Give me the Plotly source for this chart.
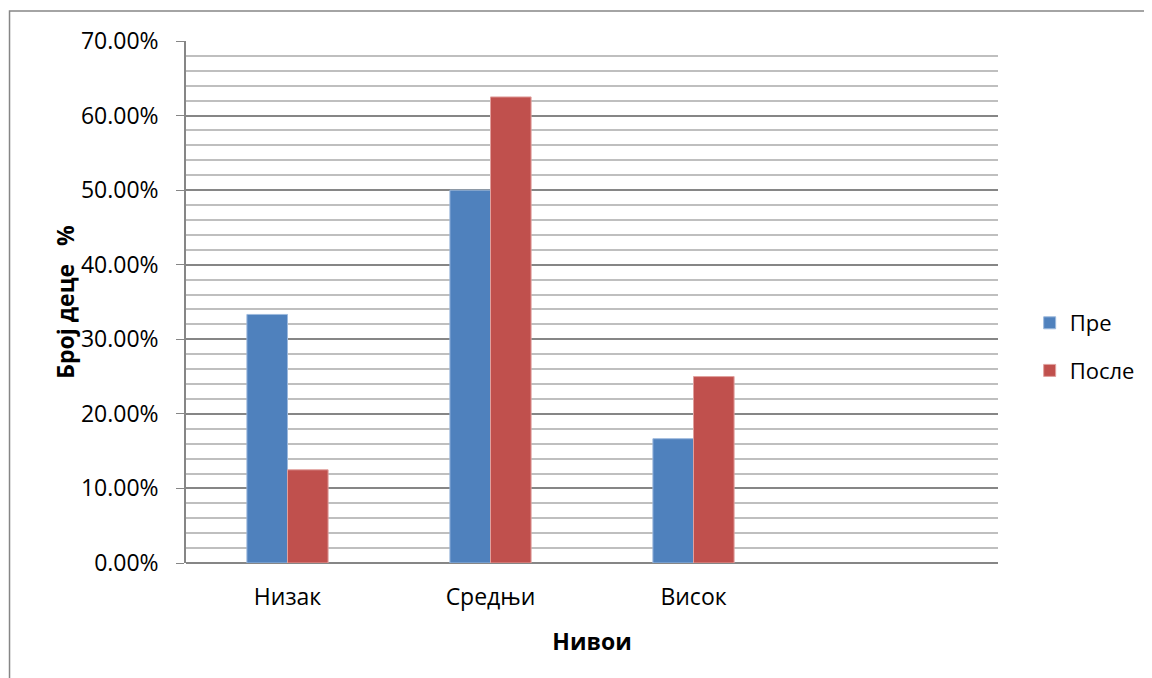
import plotly.graph_objects as go

categories = ["Низак", "Средњи", "Висок"]
pre = [0.3333, 0.50, 0.1667]
posle = [0.125, 0.625, 0.25]
series_names = ["Пре", "После"]

FONT = "Open Sans"
W, H = 1144, 670
L, T, R, B = 178, 33, 147, 115

fig = go.Figure()
fig.add_trace(go.Bar(x=categories, y=pre, name=series_names[0], legendgroup="a",
                     marker=dict(color="#4F81BD", line=dict(color="#9DB9DD", width=1))))
fig.add_trace(go.Bar(x=categories, y=posle, name=series_names[1], legendgroup="b",
                     marker=dict(color="#C0504D", line=dict(color="#E0A09E", width=1))))

pw = W - L - R
ph = H - T - B

fig.update_layout(
    width=W, height=H,
    margin=dict(l=L, r=R, t=T, b=B),
    paper_bgcolor="white", plot_bgcolor="white",
    barmode="group", bargap=0.6, bargroupgap=0,
    font=dict(family=FONT, size=22, color="black"),
    showlegend=True,
    legend=dict(x=1.039, y=(555 - 339) / ph, xanchor="left", yanchor="middle",
                font=dict(size=22), traceorder="grouped", tracegroupgap=16, itemwidth=30,
                bgcolor="rgba(0,0,0,0)"),
    xaxis=dict(type="category", categoryorder="array", categoryarray=categories,
               range=[-0.5, 3.5], showgrid=False, showline=False, ticks="",
               tickfont=dict(size=23), ticklabelstandoff=18,
               title=dict(text="<b>Нивои</b>", font=dict(size=23), standoff=22)),
    yaxis=dict(range=[0, 0.7], dtick=0.1, tickformat=".2%",
               showgrid=True, gridcolor="#868686", gridwidth=1.5,
               minor=dict(dtick=0.02, showgrid=True, gridcolor="#BFBFBF", gridwidth=1.5),
               showline=True, linecolor="#868686", linewidth=1.5,
               ticks="outside", ticklen=8, tickcolor="#868686",
               zeroline=True, zerolinecolor="#868686", zerolinewidth=1.5,
               tickfont=dict(size=23), ticklabelstandoff=13,
               title=dict(text="<b>Број деце\u00a0\u00a0 %</b>", font=dict(size=23), standoff=0)),
)

fig.add_shape(type="rect", xref="paper", yref="paper",
              x0=(0 - L) / pw, x1=(W + 20 - L) / pw,
              y0=(H - B - (H + 20)) / ph, y1=(H - B - 3) / ph,
              line=dict(color="#868686", width=1.5), fillcolor="rgba(0,0,0,0)", layer="below")

fig.write_html("out.html")
